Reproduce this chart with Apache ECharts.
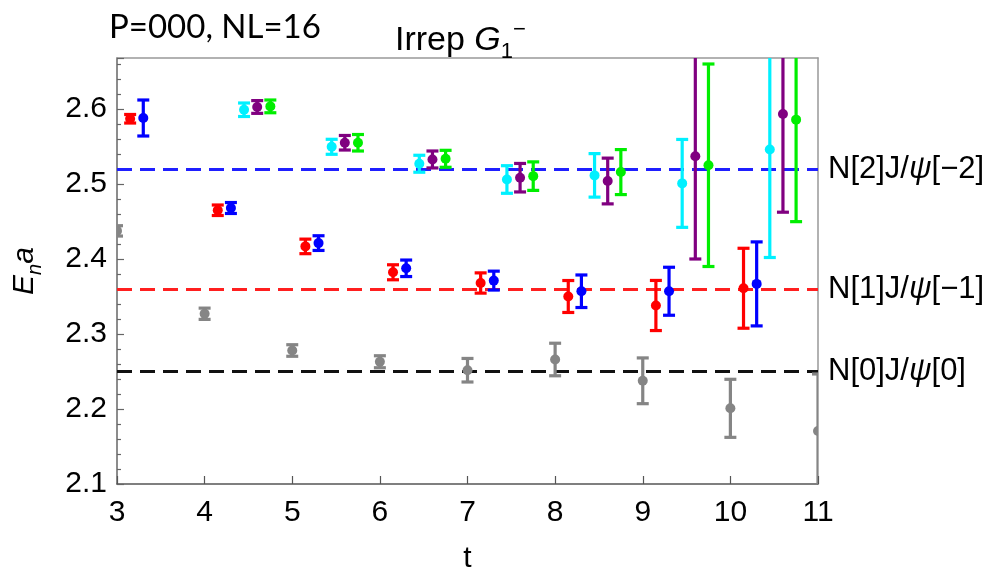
<!DOCTYPE html>
<html>
<head>
<meta charset="utf-8">
<script src="https://cdn.jsdelivr.net/npm/echarts@6/dist/echarts.min.js"></script>
<style>html,body{margin:0;padding:0;background:#fff;}#c{width:994px;height:579px;}</style>
</head>
<body>
<div id="c"></div>
<script>
// ---- data ----
const xTicks = [3, 4, 5, 6, 7, 8, 9, 10, 11];
const yTicks = [2.1, 2.2, 2.3, 2.4, 2.5, 2.6];

const grayT = [3, 4, 5, 6, 7, 8, 9, 10, 11];
const grayE = [2.4375, 2.327, 2.278, 2.263, 2.2517, 2.266, 2.2376, 2.2009, 2.1707];
const grayErr = [0.0069, 0.0075, 0.0077, 0.008, 0.0157, 0.0217, 0.0305, 0.0387, 0.076];

const redT = [3, 4, 5, 6, 7, 8, 9, 10];
const redE = [2.587, 2.465, 2.4168, 2.3823, 2.368, 2.350, 2.338, 2.361];
const redErr = [0.0057, 0.007, 0.0097, 0.010, 0.0135, 0.0213, 0.0334, 0.0533];

const blueT = [3, 4, 5, 6, 7, 8, 9, 10];
const blueE = [2.588, 2.468, 2.4212, 2.3876, 2.3712, 2.357, 2.357, 2.3668];
const blueErr = [0.024, 0.0073, 0.0098, 0.011, 0.0126, 0.0217, 0.032, 0.056];

const cyanT = [4, 5, 6, 7, 8, 9, 10];
const cyanE = [2.599, 2.5496, 2.527, 2.506, 2.5115, 2.5008, 2.546];
const cyanErr = [0.009, 0.010, 0.0113, 0.0184, 0.029, 0.0586, 0.144];

const purpleT = [4, 5, 6, 7, 8, 9, 10];
const purpleE = [2.6027, 2.555, 2.5327, 2.5084, 2.504, 2.537, 2.5934];
const purpleErr = [0.0085, 0.0097, 0.0113, 0.019, 0.0305, 0.137, 0.131];

const greenT = [4, 5, 6, 7, 8, 9, 10];
const greenE = [2.6035, 2.555, 2.5336, 2.5105, 2.5159, 2.525, 2.5858];
const greenErr = [0.0085, 0.011, 0.0113, 0.019, 0.030, 0.135, 0.136];

const levelNames = ['N[2]J/ψ[−2]', 'N[1]J/ψ[−1]', 'N[0]J/ψ[0]'];
const levelValues = [2.5194, 2.3632, 2.251];

// ---- chart ----
const FONT = 'Liberation Sans';
const chart = echarts.init(document.getElementById('c'));

function renderErr(params, api) {
  const x = api.value(0), y = api.value(1), e = api.value(2);
  const p = api.coord([x, y]);
  const hi = api.coord([x, y + e]);
  const lo = api.coord([x, y - e]);
  const color = api.visual('color');
  const cw = 6, lw = 3.2;
  return {
    type: 'group',
    children: [
      { type: 'line', shape: { x1: p[0], y1: hi[1], x2: p[0], y2: lo[1] }, style: { stroke: color, lineWidth: lw } },
      { type: 'line', shape: { x1: p[0] - cw, y1: hi[1], x2: p[0] + cw, y2: hi[1] }, style: { stroke: color, lineWidth: lw } },
      { type: 'line', shape: { x1: p[0] - cw, y1: lo[1], x2: p[0] + cw, y2: lo[1] }, style: { stroke: color, lineWidth: lw } },
      { type: 'circle', shape: { cx: p[0], cy: p[1], r: 5 }, style: { fill: color } }
    ]
  };
}

function errSeries(name, ts, es, errs, offset, color) {
  return {
    name: name,
    type: 'custom',
    renderItem: renderErr,
    clip: true,
    itemStyle: { color: color },
    encode: { x: 0, y: 1 },
    data: ts.map((t, i) => [t + offset, es[i], errs[i]]),
    z: 5
  };
}

const levelColors = ['#1f1fff', '#ff1f1f', '#111111'];

const option = {
  animation: false,
  backgroundColor: '#ffffff',
  title: [
    {
      text: 'P=000, NL=16',
      left: 104, top: 6,
      textStyle: { fontFamily: 'Lato', fontSize: 33, fontWeight: 'normal', color: '#000' }
    },
    {
      text: '{a|Irrep }{i|G}{b|1}{c|−}',
      left: 390, top: 14,
      textStyle: {
        fontFamily: FONT, fontSize: 34, fontWeight: 'normal', color: '#000',
        rich: {
          a: { fontFamily: FONT, fontSize: 34, lineHeight: 44, color: '#000' },
          i: { fontFamily: FONT, fontSize: 34, fontStyle: 'italic', lineHeight: 44, color: '#000' },
          b: { fontFamily: FONT, fontSize: 22, lineHeight: 22, verticalAlign: 'bottom', color: '#000' },
          c: { fontFamily: FONT, fontSize: 22, lineHeight: 22, verticalAlign: 'top', color: '#000' }
        }
      }
    }
  ],
  grid: { left: 117, right: 176, top: 58, bottom: 93 },
  xAxis: [
    {
      type: 'value', min: 3, max: 11, interval: 1,
      name: 't', nameLocation: 'middle', nameGap: 60,
      nameTextStyle: { fontFamily: FONT, fontSize: 30, color: '#000' },
      axisLine: { show: true, onZero: false, lineStyle: { color: '#555', width: 1.5 } },
      axisTick: { show: true, inside: true, length: 8, lineStyle: { color: '#555', width: 1.2 } },
      axisLabel: { fontFamily: FONT, fontSize: 30, color: '#000', margin: 14,
        formatter: v => xTicks.includes(Math.round(v)) ? String(Math.round(v)) : '' },
      splitLine: { show: false }
    },
    {
      type: 'value', min: 3, max: 11, position: 'top',
      axisLine: { show: true, onZero: false, lineStyle: { color: '#999', width: 1.5 } },
      axisTick: { show: false }, axisLabel: { show: false }, splitLine: { show: false }
    }
  ],
  yAxis: [
    {
      type: 'value', min: 2.1, max: 2.668, interval: 0.1,
      name: '{i|E}{s|n}{i|a}', nameLocation: 'middle', nameGap: 72,
      nameTextStyle: {
        fontFamily: FONT, fontSize: 30, color: '#000',
        rich: {
          i: { fontFamily: FONT, fontSize: 30, fontStyle: 'italic', lineHeight: 40, color: '#000' },
          s: { fontFamily: FONT, fontSize: 20, fontStyle: 'italic', lineHeight: 20, verticalAlign: 'bottom', color: '#000' }
        }
      },
      axisLine: { show: true, onZero: false, lineStyle: { color: '#666', width: 1.5 } },
      axisTick: { show: true, inside: true, length: 7, lineStyle: { color: '#666', width: 1.2 } },
      minorTick: { show: true, splitNumber: 5, length: 4, lineStyle: { color: '#666', width: 1.2 } },
      axisLabel: {
        fontFamily: FONT, fontSize: 30, color: '#000', margin: 10, showMaxLabel: false,
        formatter: v => {
          const hit = yTicks.find(t => Math.abs(t - v) < 1e-6);
          return hit !== undefined ? hit.toFixed(1) : '';
        }
      },
      splitLine: { show: false }
    },
    {
      type: 'value', min: 2.1, max: 2.668, position: 'right',
      axisLine: { show: true, onZero: false, lineStyle: { color: '#999', width: 1.5 } },
      axisTick: { show: false }, axisLabel: { show: false }, splitLine: { show: false }
    }
  ],
  series: [
    {
      name: 'levels', type: 'line', data: [], xAxisIndex: 0, yAxisIndex: 0,
      markLine: {
        silent: true, symbol: ['none', 'none'], animation: false,
        data: levelValues.map((v, i) => ({
          yAxis: v,
          lineStyle: { color: levelColors[i], type: [15, 8], width: 3 },
          label: {
            show: true, position: 'end', distance: 10,
            formatter: levelNames[i].replace('ψ', '{i|ψ}'),
            fontFamily: FONT, fontSize: 31, color: '#000',
            rich: { i: { fontFamily: FONT, fontSize: 31, fontStyle: 'italic', color: '#000' } }
          }
        }))
      },
      z: 3
    },
    errSeries('gray', grayT, grayE, grayErr, 0, '#858585'),
    errSeries('red', redT, redE, redErr, 0.15, '#ff0000'),
    errSeries('blue', blueT, blueE, blueErr, 0.3, '#0000ff'),
    errSeries('cyan', cyanT, cyanE, cyanErr, 0.45, '#00f0ff'),
    errSeries('purple', purpleT, purpleE, purpleErr, 0.6, '#800080'),
    errSeries('green', greenT, greenE, greenErr, 0.75, '#00ee00')
  ]
};
chart.setOption(option);
</script>
</body>
</html>
